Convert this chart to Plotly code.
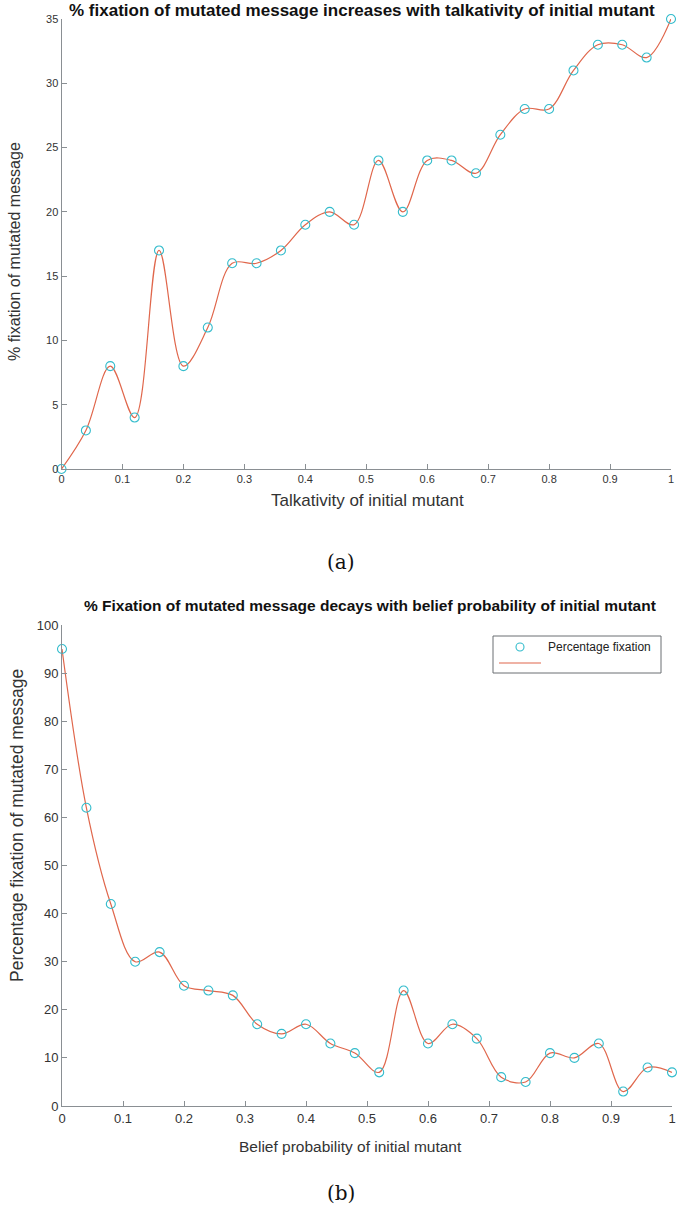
import plotly.graph_objects as go

x_vals = [0, 0.04, 0.08, 0.12, 0.16, 0.20, 0.24, 0.28, 0.32, 0.36, 0.40, 0.44, 0.48,
          0.52, 0.56, 0.60, 0.64, 0.68, 0.72, 0.76, 0.80, 0.84, 0.88, 0.92, 0.96, 1.0]
talk_fix = [0, 3, 8, 4, 17, 8, 11, 16, 16, 17, 19, 20, 19, 24, 20, 24, 24, 23, 26, 28,
            28, 31, 33, 33, 32, 35]
belief_fix = [95, 62, 42, 30, 32, 25, 24, 23, 17, 15, 17, 13, 11, 7, 24, 13, 17, 14, 6, 5,
              11, 10, 13, 3, 8, 7]
legend_label = "Percentage fixation"

W, H = 685, 1216
LINE_C = "#e0674c"
MARK_C = "#33bccc"
AX_C = "#8a8f93"
TXT_C = "#333333"
FONT = "Liberation Sans"

def px(xp):
    return xp / W

def py(yp):
    return (H - yp) / H

fig = go.Figure()

# Top chart (a)
fig.add_trace(go.Scatter(x=x_vals, y=talk_fix, mode="lines", cliponaxis=False,
                         line=dict(color=LINE_C, width=1.2, shape="spline", smoothing=1.0),
                         xaxis="x", yaxis="y", showlegend=False, hoverinfo="skip"))
fig.add_trace(go.Scatter(x=x_vals, y=talk_fix, mode="markers", cliponaxis=False,
                         marker=dict(symbol="circle-open", size=9, color=MARK_C, line=dict(width=1.1, color=MARK_C)),
                         xaxis="x", yaxis="y", showlegend=False))

# Bottom chart (b)
fig.add_trace(go.Scatter(x=x_vals, y=belief_fix, mode="lines", cliponaxis=False,
                         line=dict(color=LINE_C, width=1.2, shape="spline", smoothing=1.0),
                         xaxis="x2", yaxis="y2", showlegend=False, hoverinfo="skip"))
fig.add_trace(go.Scatter(x=x_vals, y=belief_fix, mode="markers", name=legend_label, cliponaxis=False,
                         marker=dict(symbol="circle-open", size=9, color=MARK_C, line=dict(width=1.1, color=MARK_C)),
                         xaxis="x2", yaxis="y2", showlegend=False))

axis_common = dict(showline=True, linecolor=AX_C, linewidth=1, ticks="inside", ticklen=5,
                   tickcolor=AX_C, showgrid=False, zeroline=False, mirror=False,
                   color=TXT_C, automargin=False)

fig.update_layout(
    template="none",
    width=W, height=H,
    margin=dict(l=0, r=0, t=0, b=0, pad=0),
    paper_bgcolor="white", plot_bgcolor="white",
    font=dict(family=FONT, color=TXT_C),
    xaxis=dict(domain=[px(61.5), px(671)], range=[0, 1], dtick=0.1, tick0=0, anchor="y",
               tickfont=dict(size=11), **axis_common),
    yaxis=dict(domain=[py(469), py(19)], range=[0, 35], dtick=5, tick0=0, anchor="x",
               tickfont=dict(size=11), **axis_common),
    xaxis2=dict(domain=[px(62), px(672)], range=[0, 1], dtick=0.1, tick0=0, anchor="y2",
                tickfont=dict(size=13), **axis_common),
    yaxis2=dict(domain=[py(1106), py(625)], range=[0, 100], dtick=10, tick0=0, anchor="x2",
                tickfont=dict(size=13), **axis_common),
    showlegend=False,
)

# legend box for panel (b)
shapes = [
    dict(type="rect", xref="paper", yref="paper", x0=px(493), x1=px(661), y0=py(673), y1=py(636),
         line=dict(color="#6b6f72", width=1), fillcolor="white", layer="above"),
    dict(type="circle", xref="paper", yref="paper", x0=px(516), x1=px(524), y0=py(651), y1=py(643),
         line=dict(color=MARK_C, width=1.1), layer="above"),
    dict(type="line", xref="paper", yref="paper", x0=px(499), x1=px(541), y0=py(663), y1=py(663),
         line=dict(color=LINE_C, width=1.2), layer="above"),
]
fig.update_layout(shapes=shapes)

annotations = [
    dict(text="<b>% fixation of mutated message increases with talkativity of initial mutant</b>",
         x=px(362), y=py(10), font=dict(size=17, color="#111111")),
    dict(text="Talkativity of initial mutant", x=px(367), y=py(500), font=dict(size=17, color="#333333")),
    dict(text="% fixation of mutated message", x=px(14), y=py(252), textangle=-90,
         font=dict(size=16, color="#333333")),
    dict(text="(a)", x=px(341), y=py(562), font=dict(size=20, family="DejaVu Serif", color="#111111")),
    dict(text="<b>% Fixation of mutated message decays with belief probability of initial mutant</b>",
         x=px(370), y=py(605), font=dict(size=15.5, color="#111111")),
    dict(text="Belief probability of initial mutant", x=px(350), y=py(1146), font=dict(size=15.5, color="#333333")),
    dict(text="Percentage fixation of mutated message", x=px(17), y=py(826), textangle=-90,
         font=dict(size=17.5, color="#333333")),
    dict(text="(b)", x=px(341), y=py(1193), font=dict(size=20, family="DejaVu Serif", color="#111111")),
]
for a in annotations:
    a.update(xanchor="center")
annotations.append(dict(text=legend_label, x=px(546), y=py(647), xanchor="left",
                        font=dict(size=12, color="#222222")))
for a in annotations:
    a.update(xref="paper", yref="paper", showarrow=False, yanchor="middle")
fig.update_layout(annotations=annotations)

fig.write_html("out.html",
               config={"displayModeBar": False, "staticPlot": True},
               post_script="document.body.style.margin='0';document.body.style.padding='0';document.body.style.overflow='hidden';")
